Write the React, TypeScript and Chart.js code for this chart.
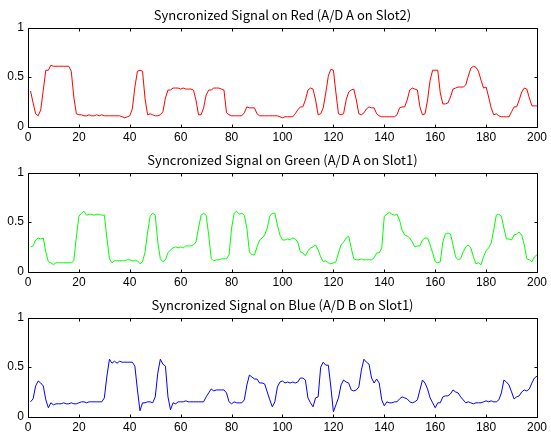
import React, { useEffect, useRef } from "react";
import { Chart, registerables } from "chart.js";

Chart.register(...registerables);

// sample numbers (x axis)
const sampleIndex: number[] = Array.from({ length: 200 }, (_, i) => i + 1);

const redValues: number[] = [
  0.36, 0.24, 0.13, 0.11, 0.17, 0.37, 0.57, 0.57, 0.62, 0.61,
  0.61, 0.61, 0.61, 0.61, 0.61, 0.61, 0.56, 0.30, 0.13, 0.12,
  0.12, 0.11, 0.11, 0.12, 0.11, 0.11, 0.12, 0.11, 0.12, 0.11,
  0.11, 0.11, 0.11, 0.11, 0.11, 0.11, 0.10, 0.09, 0.10, 0.11,
  0.18, 0.40, 0.56, 0.57, 0.56, 0.28, 0.12, 0.13, 0.12, 0.11,
  0.11, 0.12, 0.15, 0.29, 0.37, 0.37, 0.39, 0.39, 0.39, 0.38,
  0.39, 0.38, 0.38, 0.38, 0.37, 0.27, 0.12, 0.12, 0.19, 0.32,
  0.37, 0.37, 0.39, 0.39, 0.39, 0.38, 0.37, 0.14, 0.12, 0.11,
  0.11, 0.11, 0.11, 0.11, 0.14, 0.20, 0.19, 0.19, 0.19, 0.13,
  0.11, 0.11, 0.11, 0.11, 0.11, 0.11, 0.11, 0.11, 0.10, 0.09,
  0.10, 0.10, 0.10, 0.10, 0.13, 0.17, 0.20, 0.20, 0.27, 0.37,
  0.39, 0.38, 0.27, 0.12, 0.13, 0.19, 0.34, 0.51, 0.58, 0.57,
  0.34, 0.13, 0.12, 0.13, 0.27, 0.35, 0.37, 0.38, 0.27, 0.13,
  0.12, 0.14, 0.18, 0.20, 0.19, 0.19, 0.13, 0.11, 0.10, 0.10,
  0.10, 0.10, 0.10, 0.10, 0.12, 0.19, 0.20, 0.20, 0.27, 0.37,
  0.39, 0.38, 0.37, 0.20, 0.12, 0.13, 0.27, 0.47, 0.57, 0.57,
  0.57, 0.34, 0.23, 0.23, 0.24, 0.30, 0.38, 0.39, 0.40, 0.40,
  0.40, 0.42, 0.51, 0.59, 0.61, 0.60, 0.56, 0.47, 0.39, 0.40,
  0.30, 0.19, 0.12, 0.13, 0.11, 0.10, 0.10, 0.10, 0.10, 0.15,
  0.20, 0.20, 0.27, 0.35, 0.39, 0.38, 0.29, 0.21, 0.21, 0.21,
];

const greenValues: number[] = [
  0.25, 0.26, 0.32, 0.34, 0.33, 0.34, 0.20, 0.10, 0.09, 0.07,
  0.09, 0.09, 0.09, 0.09, 0.09, 0.09, 0.09, 0.11, 0.35, 0.56,
  0.59, 0.61, 0.57, 0.58, 0.58, 0.57, 0.58, 0.58, 0.57, 0.57,
  0.34, 0.13, 0.09, 0.11, 0.11, 0.11, 0.11, 0.11, 0.12, 0.12,
  0.11, 0.11, 0.11, 0.08, 0.10, 0.20, 0.40, 0.56, 0.59, 0.57,
  0.30, 0.13, 0.10, 0.12, 0.19, 0.22, 0.24, 0.25, 0.24, 0.25,
  0.24, 0.26, 0.26, 0.26, 0.27, 0.30, 0.44, 0.57, 0.59, 0.57,
  0.37, 0.13, 0.11, 0.12, 0.12, 0.13, 0.13, 0.13, 0.17, 0.44,
  0.59, 0.61, 0.58, 0.59, 0.57, 0.44, 0.20, 0.17, 0.17, 0.25,
  0.32, 0.34, 0.37, 0.44, 0.56, 0.59, 0.59, 0.47, 0.37, 0.32,
  0.32, 0.33, 0.32, 0.34, 0.33, 0.30, 0.20, 0.19, 0.16, 0.21,
  0.24, 0.25, 0.27, 0.22, 0.15, 0.10, 0.11, 0.09, 0.08, 0.09,
  0.10, 0.19, 0.27, 0.30, 0.34, 0.36, 0.24, 0.13, 0.12, 0.12,
  0.13, 0.12, 0.12, 0.12, 0.12, 0.14, 0.19, 0.19, 0.24, 0.56,
  0.58, 0.60, 0.58, 0.57, 0.58, 0.52, 0.42, 0.37, 0.36, 0.34,
  0.30, 0.25, 0.26, 0.26, 0.32, 0.34, 0.34, 0.27, 0.19, 0.10,
  0.09, 0.10, 0.30, 0.38, 0.39, 0.38, 0.27, 0.15, 0.12, 0.13,
  0.20, 0.25, 0.27, 0.24, 0.15, 0.08, 0.09, 0.07, 0.15, 0.21,
  0.24, 0.29, 0.42, 0.57, 0.58, 0.56, 0.44, 0.33, 0.33, 0.32,
  0.37, 0.38, 0.40, 0.37, 0.27, 0.13, 0.12, 0.10, 0.15, 0.17,
];

const blueValues: number[] = [
  0.15, 0.18, 0.31, 0.36, 0.34, 0.31, 0.17, 0.09, 0.14, 0.12,
  0.13, 0.13, 0.13, 0.14, 0.13, 0.13, 0.14, 0.13, 0.13, 0.14,
  0.15, 0.15, 0.14, 0.15, 0.15, 0.15, 0.15, 0.15, 0.15, 0.19,
  0.41, 0.58, 0.54, 0.56, 0.54, 0.56, 0.55, 0.55, 0.55, 0.55,
  0.55, 0.51, 0.27, 0.06, 0.14, 0.14, 0.15, 0.15, 0.14, 0.20,
  0.44, 0.58, 0.53, 0.51, 0.20, 0.07, 0.14, 0.13, 0.15, 0.15,
  0.15, 0.16, 0.15, 0.15, 0.15, 0.15, 0.15, 0.15, 0.15, 0.20,
  0.24, 0.28, 0.26, 0.27, 0.27, 0.27, 0.27, 0.24, 0.15, 0.13,
  0.15, 0.14, 0.14, 0.14, 0.17, 0.32, 0.42, 0.40, 0.38, 0.38,
  0.34, 0.34, 0.33, 0.25, 0.17, 0.10, 0.15, 0.30, 0.35, 0.36,
  0.34, 0.35, 0.34, 0.35, 0.34, 0.35, 0.39, 0.39, 0.37, 0.19,
  0.14, 0.10, 0.19, 0.20, 0.50, 0.55, 0.52, 0.52, 0.30, 0.05,
  0.12, 0.19, 0.32, 0.37, 0.35, 0.34, 0.27, 0.26, 0.27, 0.30,
  0.47, 0.58, 0.55, 0.53, 0.39, 0.34, 0.38, 0.34, 0.17, 0.11,
  0.15, 0.14, 0.14, 0.15, 0.15, 0.18, 0.20, 0.19, 0.18, 0.15,
  0.14, 0.15, 0.17, 0.27, 0.37, 0.34, 0.28, 0.19, 0.14, 0.09,
  0.14, 0.14, 0.20, 0.21, 0.21, 0.23, 0.27, 0.25, 0.24, 0.20,
  0.17, 0.14, 0.15, 0.14, 0.13, 0.14, 0.14, 0.14, 0.15, 0.16,
  0.15, 0.16, 0.15, 0.15, 0.17, 0.24, 0.37, 0.35, 0.32, 0.25,
  0.18, 0.20, 0.21, 0.25, 0.27, 0.26, 0.28, 0.34, 0.39, 0.41,
];

const xTickValues: number[] = [0, 20, 40, 60, 80, 100, 120, 140, 160, 180, 200];
const yTickValues: number[] = [0, 0.5, 1];

const panelTitles: string[] = [
  "Syncronized Signal on Red (A/D A on Slot2)",
  "Syncronized Signal on Green (A/D A on Slot1)",
  "Syncronized Signal on Blue (A/D B on Slot1)",
];

const FONT = "'Noto Sans CJK JP', 'Liberation Sans', sans-serif";
const TICK_FONT = "'Liberation Sans', Arial, sans-serif";

const frameTicks = {
  id: "frameTicks",
  afterDatasetsDraw(chart: any) {
    const { ctx, chartArea: a, scales } = chart;
    const L = Math.round(a.left) + 0.5;
    const R = Math.round(a.right) + 0.5;
    const T = Math.round(a.top) + 0.5;
    const B = Math.round(a.bottom) + 0.5;
    const len = 3;
    ctx.save();
    ctx.strokeStyle = "#000";
    ctx.lineWidth = 1;
    ctx.beginPath();
    ctx.rect(L, T, R - L, B - T);
    for (const v of xTickValues) {
      const px = Math.round(scales.x.getPixelForValue(v)) + 0.5;
      ctx.moveTo(px, B);
      ctx.lineTo(px, B - len);
      ctx.moveTo(px, T);
      ctx.lineTo(px, T + len);
    }
    for (const v of yTickValues) {
      const py = Math.round(scales.y.getPixelForValue(v)) + 0.5;
      ctx.moveTo(L, py);
      ctx.lineTo(L + len, py);
      ctx.moveTo(R, py);
      ctx.lineTo(R - len, py);
    }
    ctx.stroke();
    ctx.restore();
  },
};

function Panel(props: { top: number; height: number; title: string; values: number[]; color: string }) {
  const { top, height, title, values, color } = props;
  const ref = useRef<HTMLCanvasElement | null>(null);
  useEffect(() => {
    if (!ref.current) return;
    const chart = new Chart(ref.current, {
      type: "line",
      data: {
        datasets: [
          {
            data: sampleIndex.map((x, i) => ({ x, y: values[i] })),
            borderColor: color,
            borderWidth: 1,
            pointRadius: 0,
            fill: false,
            tension: 0,
          },
        ],
      },
      options: {
        animation: false,
        responsive: false,
        maintainAspectRatio: false,
        layout: { padding: { left: 0, right: 13, top: 0, bottom: 0 } },
        plugins: {
          legend: { display: false },
          tooltip: { enabled: false },
          title: {
            display: true,
            text: title,
            color: "#000",
            fullSize: false,
            font: { family: FONT, size: 13, weight: "normal", lineHeight: 1.2 },
            padding: { top: 7, bottom: 5 },
          },
        },
        scales: {
          x: {
            type: "linear",
            min: 0,
            max: 200,
            afterBuildTicks: (s: any) => {
              s.ticks = xTickValues.map((v) => ({ value: v }));
            },
            afterFit: (s: any) => {
              s.height = height - 126.7;
            },
            grid: { display: false, drawTicks: false },
            border: { display: false },
            ticks: {
              padding: 4,
              color: "#000",
              autoSkip: false,
              maxRotation: 0,
              font: { family: TICK_FONT, size: 12 },
              callback: (v: any) => String(v),
            },
          },
          y: {
            type: "linear",
            min: 0,
            max: 1,
            afterBuildTicks: (s: any) => {
              s.ticks = yTickValues.map((v) => ({ value: v }));
            },
            afterFit: (s: any) => {
              s.width = 28;
            },
            grid: { display: false, drawTicks: false },
            border: { display: false },
            ticks: {
              padding: 4,
              color: "#000",
              font: { family: TICK_FONT, size: 12 },
              callback: (v: any) => String(v),
            },
          },
        },
      },
      plugins: [frameTicks],
    } as any);
    return () => chart.destroy();
  }, []);
  return (
    <canvas
      ref={ref}
      width={551}
      height={height}
      style={{ position: "absolute", left: 0, top, width: 551, height }}
    />
  );
}

export default function App() {
  return (
    <div
      style={{
        position: "fixed",
        left: 0,
        top: 0,
        width: 551,
        height: 434,
        background: "#fff",
        overflow: "hidden",
      }}
    >
      <Panel top={0} height={145} title={panelTitles[0]} values={redValues} color="#ff0000" />
      <Panel top={145} height={145} title={panelTitles[1]} values={greenValues} color="#00ff00" />
      <Panel top={290} height={144} title={panelTitles[2]} values={blueValues} color="#0000ff" />
    </div>
  );
}
